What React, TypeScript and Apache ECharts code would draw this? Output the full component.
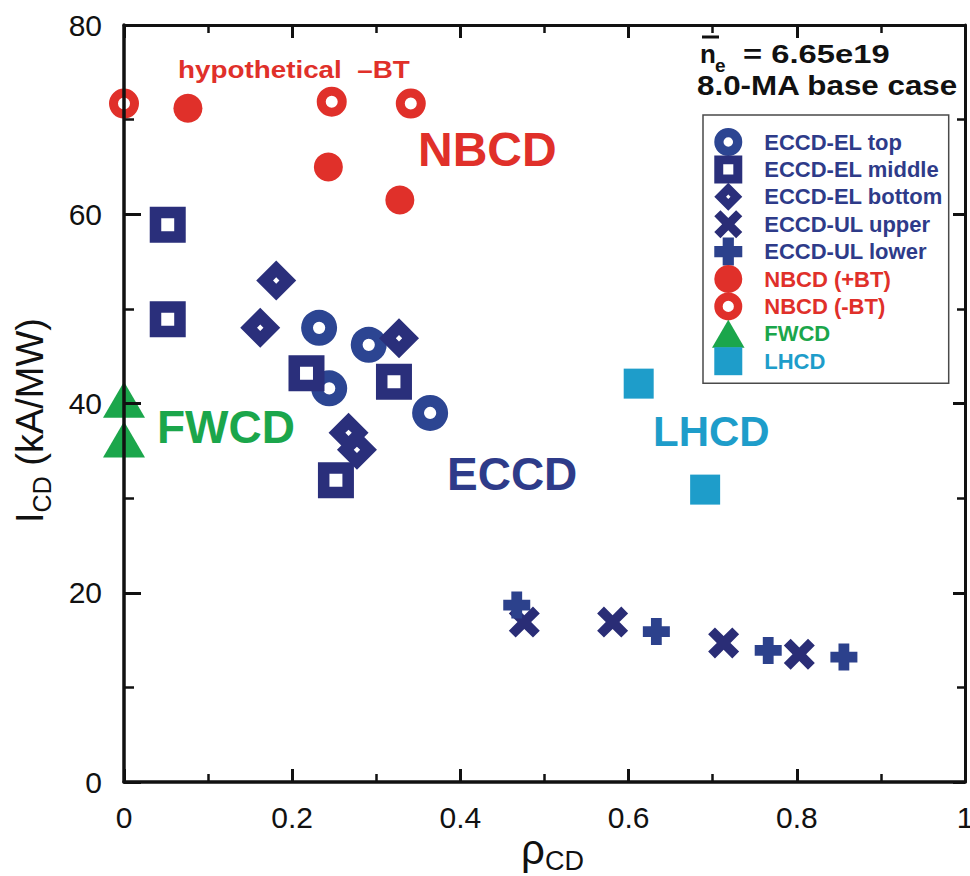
import React, { useEffect, useRef } from "react";
import * as echarts from "echarts";

const FONT = '"Liberation Sans", Arial, Helvetica, sans-serif';

// Axis ranges and tick steps
const xRange = [0, 1];
const xStep = 0.2;
const yRange = [0, 80];
const yStep = 20;
const xTickLabels = ["0", "0.2", "0.4", "0.6", "0.8", "1"];
const yTickLabels = ["0", "20", "40", "60", "80"];

// Series names (legend order)
const seriesNames = [
  "ECCD-EL top",
  "ECCD-EL middle",
  "ECCD-EL bottom",
  "ECCD-UL upper",
  "ECCD-UL lower",
  "NBCD (+BT)",
  "NBCD (-BT)",
  "FWCD",
  "LHCD",
];

// [rho_CD, I_CD (kA/MW)]
const eccdElTop = [[0.232, 48.0], [0.291, 46.2], [0.244, 41.6], [0.364, 39.0]];
const eccdElMiddle = [[0.052, 58.9], [0.052, 48.9], [0.217, 43.2], [0.321, 42.3], [0.252, 31.9]];
const eccdElBottom = [[0.181, 53.0], [0.162, 48.0], [0.327, 46.9], [0.267, 36.9], [0.277, 35.1]];
const eccdUlUpper = [[0.476, 16.9], [0.581, 16.9], [0.713, 14.7], [0.803, 13.5]];
const eccdUlLower = [[0.467, 18.7], [0.633, 15.9], [0.766, 13.9], [0.856, 13.2]];
const nbcdPlusBt = [[0.076, 71.2], [0.243, 65.0], [0.328, 61.5]];
const nbcdMinusBt = [[0, 71.7], [0.247, 71.9], [0.341, 71.7]];
const fwcd = [[0, 40.4], [0, 36.2]];
const lhcd = [[0.612, 42.1], [0.691, 30.9]];

const NAVY = "#2a2f7b";
const NAVY_LIGHT = "#2c4592";
const NAVY_TEXT = "#2e3b89";
const RED = "#e0302a";
const GREEN = "#1ba64b";
const CYAN = "#1e9dca";
const INK = "#111111";

// Marker shapes; inner sub-paths wind the other way to punch holes
const RING_EL = "path://M50,0A50,50,0,1,1,50,100A50,50,0,1,1,50,0ZM50,33A17,17,0,1,0,50,67A17,17,0,1,0,50,33Z";
const RING_NB = "path://M50,0A50,50,0,1,1,50,100A50,50,0,1,1,50,0ZM50,30A20,20,0,1,0,50,70A20,20,0,1,0,50,30Z";
const SQUARE_HOLE = "path://M0,0H100V100H0ZM32,32V68H68V32Z";
const DIAMOND_HOLE = "path://M50,0L100,50L50,100L0,50ZM50,42L42,50L50,58L58,50Z";
const CROSS_X = "path://M0,22L22,0L50,28L78,0L100,22L72,50L100,78L78,100L50,72L22,100L0,78L28,50Z";
const CROSS_PLUS = "path://M30,0H70V30H100V70H70V100H30V70H0V30H30Z";
const TRIANGLE = "path://M50,0L100,86L0,86Z";
const SQUARE = "path://M0,0H100V100H0Z";

const seriesData = [eccdElTop, eccdElMiddle, eccdElBottom, eccdUlUpper, eccdUlLower, nbcdPlusBt, nbcdMinusBt, fwcd, lhcd];
const seriesSymbols = [RING_EL, SQUARE_HOLE, DIAMOND_HOLE, CROSS_X, CROSS_PLUS, "circle", RING_NB, TRIANGLE, SQUARE];
const seriesSizes: any[] = [36, 36, 40, 31, 27, 29, 30, [42, 36], 30];
const seriesColors = [NAVY_LIGHT, NAVY, NAVY, "#2a2d76", "#2c418c", RED, RED, GREEN, CYAN];
const legendColors = [NAVY_TEXT, NAVY_TEXT, NAVY_TEXT, NAVY_TEXT, NAVY_TEXT, RED, RED, GREEN, CYAN];

function axisCommon(extra: any) {
  return {
    axisLine: { show: true, onZero: false, lineStyle: { color: INK, width: 3.5 } },
    axisTick: { show: true, inside: true, length: 13, lineStyle: { color: INK, width: 3 } },
    minorTick: { show: true, splitNumber: 2, length: 8, lineStyle: { color: INK, width: 2.5 } },
    splitLine: { show: false },
    minorSplitLine: { show: false },
    z: 5,
    ...extra,
  };
}

function bigText(text: string, x: number, y: number, size: number, color: string, scaleX = 1) {
  return {
    type: "text",
    x,
    y,
    scaleX,
    z: 10,
    style: {
      text,
      x: 0,
      y: 0,
      fill: color,
      font: `bold ${size}px ${FONT}`,
      textAlign: "left",
      textVerticalAlign: "middle",
      verticalAlign: "middle",
    },
  };
}

export default function App() {
  const ref = useRef<HTMLDivElement>(null);

  useEffect(() => {
    if (!ref.current) return;
    const chart = echarts.init(ref.current, undefined, { renderer: "svg" });

    const series = seriesNames.map((name, i) => ({
      name,
      type: "scatter",
      data: seriesData[i],
      symbol: seriesSymbols[i],
      symbolSize: seriesSizes[i],
      itemStyle: { color: seriesColors[i], opacity: 1 },
      clip: false,
      z: 2 + i * 0.01,
    }));

    const option: any = {
      animation: false,
      backgroundColor: "#ffffff",
      grid: { left: 124, right: 5, top: 25, bottom: 94, containLabel: false, outerBoundsMode: "none" },
      xAxis: [
        axisCommon({
          type: "value",
          min: xRange[0],
          max: xRange[1],
          interval: xStep,
          position: "bottom",
          axisLabel: {
            color: INK,
            fontFamily: FONT,
            fontSize: 30,
            margin: 20,
            formatter: (v: number) => xTickLabels[Math.round((v - xRange[0]) / xStep)] ?? "",
          },
          name: "{a|ρ}{b|CD}",
          nameLocation: "middle",
          nameGap: 46,
          nameMoveOverlap: false,
          nameTextStyle: {
            color: INK,
            fontFamily: FONT,
            padding: [0, 0, 0, 16],
            rich: {
              a: { fontSize: 42, fontFamily: FONT, color: INK, verticalAlign: "bottom", padding: [0, 0, 4, 0] },
              b: { fontSize: 27, fontFamily: FONT, color: INK, verticalAlign: "bottom" },
            },
          },
        }),
        axisCommon({
          type: "value",
          min: xRange[0],
          max: xRange[1],
          interval: xStep,
          position: "top",
          axisLabel: { show: false },
          axisLine: { show: true, onZero: false, lineStyle: { color: INK, width: 3 } },
        }),
      ],
      yAxis: [
        axisCommon({
          type: "value",
          min: yRange[0],
          max: yRange[1],
          interval: yStep,
          position: "left",
          axisTick: { show: true, inside: true, length: 17, lineStyle: { color: INK, width: 3 } },
          minorTick: { show: true, splitNumber: 2, length: 10, lineStyle: { color: INK, width: 2.5 } },
          axisLabel: {
            color: INK,
            fontFamily: FONT,
            fontSize: 30,
            margin: 22,
            formatter: (v: number) => yTickLabels[Math.round((v - yRange[0]) / yStep)] ?? "",
          },
          name: "{a|I}{b|CD}{a| (kA/MW)}",
          nameLocation: "middle",
          nameGap: 70,
          nameMoveOverlap: false,
          nameTextStyle: {
            color: INK,
            fontFamily: FONT,
            padding: [0, 34, 0, 0],
            rich: {
              a: { fontSize: 38, fontFamily: FONT, color: INK, verticalAlign: "bottom", padding: [0, 0, 5, 0] },
              b: { fontSize: 25, fontFamily: FONT, color: INK, verticalAlign: "bottom" },
            },
          },
        }),
        axisCommon({
          type: "value",
          min: yRange[0],
          max: yRange[1],
          interval: yStep,
          position: "right",
          axisLabel: { show: false },
          axisLine: { show: true, onZero: false, lineStyle: { color: INK, width: 3 } },
          axisTick: { show: true, inside: true, length: 12, lineStyle: { color: INK, width: 3 } },
        }),
      ],
      legend: {
        orient: "vertical",
        left: 703,
        top: 115,
        itemWidth: 62,
        itemHeight: 28,
        itemGap: -0.6,
        padding: [13, 6, 8, 9],
        borderColor: "#4a4a4a",
        borderWidth: 1.5,
        backgroundColor: "#ffffff",
        selectedMode: false,
        symbolKeepAspect: true,
        z: 20,
        textStyle: { fontFamily: FONT, fontWeight: "bold", fontSize: 22 },
        data: seriesNames.map((name, i) => ({ name, textStyle: { color: legendColors[i] } })),
      },
      graphic: [
        bigText("hypothetical  –BT", 178, 70, 23, RED, 1.21),
        bigText("NBCD", 418, 149, 48, RED),
        bigText("ECCD", 447, 474, 46, NAVY_TEXT),
        bigText("FWCD", 157, 427, 46, GREEN),
        bigText("LHCD", 653, 431, 42, CYAN),
        bigText("n", 700, 54, 26, INK),
        bigText("e", 715, 65, 19, INK),
        bigText("= 6.65e19", 743, 54, 26, INK, 1.26),
        bigText("8.0-MA base case", 697, 85, 28, INK, 1.12),
        {
          type: "line",
          z: 10,
          shape: { x1: 702, y1: 37, x2: 719, y2: 37 },
          style: { stroke: INK, lineWidth: 3 },
        },
      ],
      series,
    };

    chart.setOption(option);
    return () => chart.dispose();
  }, []);

  return (
    <div
      ref={ref}
      style={{ position: "fixed", left: 0, top: 0, width: 970, height: 876, background: "#fff" }}
    />
  );
}
